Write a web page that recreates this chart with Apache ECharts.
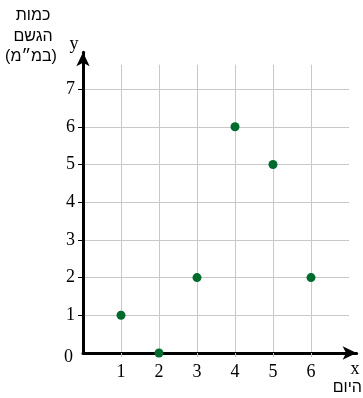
<!DOCTYPE html>
<html>
<head>
<meta charset="utf-8">
<script src="https://cdn.jsdelivr.net/npm/echarts@6/dist/echarts.min.js"></script>
<style>
  html, body { margin: 0; padding: 0; background: #fff; }
  #chart { width: 363px; height: 398px; }
</style>
</head>
<body>
<div id="chart"></div>
<script>
// data
var days = [1, 2, 3, 4, 5, 6];
var rainfall = [1, 0, 2, 6, 5, 2];
var xTicks = [1, 2, 3, 4, 5, 6];
var yTicks = [0, 1, 2, 3, 4, 5, 6, 7];
var yGridLines = [1, 2, 3, 4, 5, 6, 7];
var yTitle = ['כמות', 'הגשם', '(במ״מ)'];
var xTitle = 'היום';

// layout: origin at (83, 353), 38px per x unit, 37.7px per y unit
var left = 83, bottom = 45, ux = 38, uy = 37.7;

var points = days.map(function (d, i) { return [d, rainfall[i]]; });

var serif = 'Liberation Serif, DejaVu Serif, serif';
var sans = 'Liberation Sans, DejaVu Sans, sans-serif';

var chart = echarts.init(document.getElementById('chart'));
chart.setOption({
  backgroundColor: '#fff',
  animation: false,
  grid: [
    // grid lines + points
    { left: left, bottom: bottom, width: 7 * ux, height: 7.65 * uy, outerBoundsMode: 'none' },
    // axis lines with arrows
    { left: left, bottom: bottom, width: 7.2 * ux, height: 7.98 * uy, outerBoundsMode: 'none' }
  ],
  xAxis: [{
    gridIndex: 0, type: 'value', min: 0, max: 7, interval: 1,
    axisLine: { show: false },
    axisTick: { show: true, customValues: xTicks, length: 4, lineStyle: { color: '#bdbdbd', width: 1 } },
    axisLabel: { customValues: xTicks, color: '#000', fontFamily: serif, fontSize: 18, margin: 10 },
    splitLine: { show: true, lineStyle: { color: '#c8c8c8', width: 1 } }
  }, {
    gridIndex: 1, type: 'value', min: 0, max: 7.2,
    axisLine: { show: true, symbol: ['none', 'arrow'], symbolSize: [10, 14], lineStyle: { color: '#000', width: 3 } },
    axisTick: { show: false }, axisLabel: { show: false }, splitLine: { show: false }
  }],
  yAxis: [{
    gridIndex: 0, type: 'value', min: 0, max: 7.65, interval: 1,
    axisLine: { show: false },
    axisTick: { show: true, customValues: yGridLines, length: 5, lineStyle: { color: '#000', width: 1 } },
    axisLabel: {
      customValues: yTicks, color: '#000', fontFamily: serif, fontSize: 18, margin: 8,
      formatter: function (v) { return v === 0 ? '{z|0}' : String(v); },
      rich: { z: { fontFamily: serif, fontSize: 18, color: '#000', padding: [9, 2, 0, 0] } }
    },
    splitLine: { show: true, lineStyle: { color: '#c8c8c8', width: 1 } }
  }, {
    gridIndex: 1, type: 'value', min: 0, max: 7.98,
    axisLine: { show: true, symbol: ['none', 'arrow'], symbolSize: [10, 14], lineStyle: { color: '#000', width: 3 } },
    axisTick: { show: false }, axisLabel: { show: false }, splitLine: { show: false }
  }],
  series: [{
    type: 'scatter',
    xAxisIndex: 0, yAxisIndex: 0,
    data: points,
    symbolSize: 9,
    clip: false,
    z: 5,
    itemStyle: { color: '#006b2d', opacity: 1 }
  }],
  graphic: [
    { type: 'text', x: 33, y: 16, style: { text: yTitle[0], font: '16px ' + sans, fill: '#000', textAlign: 'center', textVerticalAlign: 'middle' } },
    { type: 'text', x: 33, y: 37, style: { text: yTitle[1], font: '16px ' + sans, fill: '#000', textAlign: 'center', textVerticalAlign: 'middle' } },
    { type: 'text', x: 31, y: 57, style: { text: yTitle[2], font: '16px ' + sans, fill: '#000', textAlign: 'center', textVerticalAlign: 'middle' } },
    { type: 'text', x: 74, y: 44, style: { text: 'y', font: '18px ' + serif, fill: '#000', textAlign: 'center', textVerticalAlign: 'middle' } },
    { type: 'text', x: 355, y: 369, style: { text: 'x', font: '18px ' + serif, fill: '#000', textAlign: 'center', textVerticalAlign: 'middle' } },
    { type: 'text', x: 362, y: 388, style: { text: xTitle, font: '16px ' + sans, fill: '#000', textAlign: 'right', textVerticalAlign: 'middle' } }
  ]
});
</script>
</body>
</html>
